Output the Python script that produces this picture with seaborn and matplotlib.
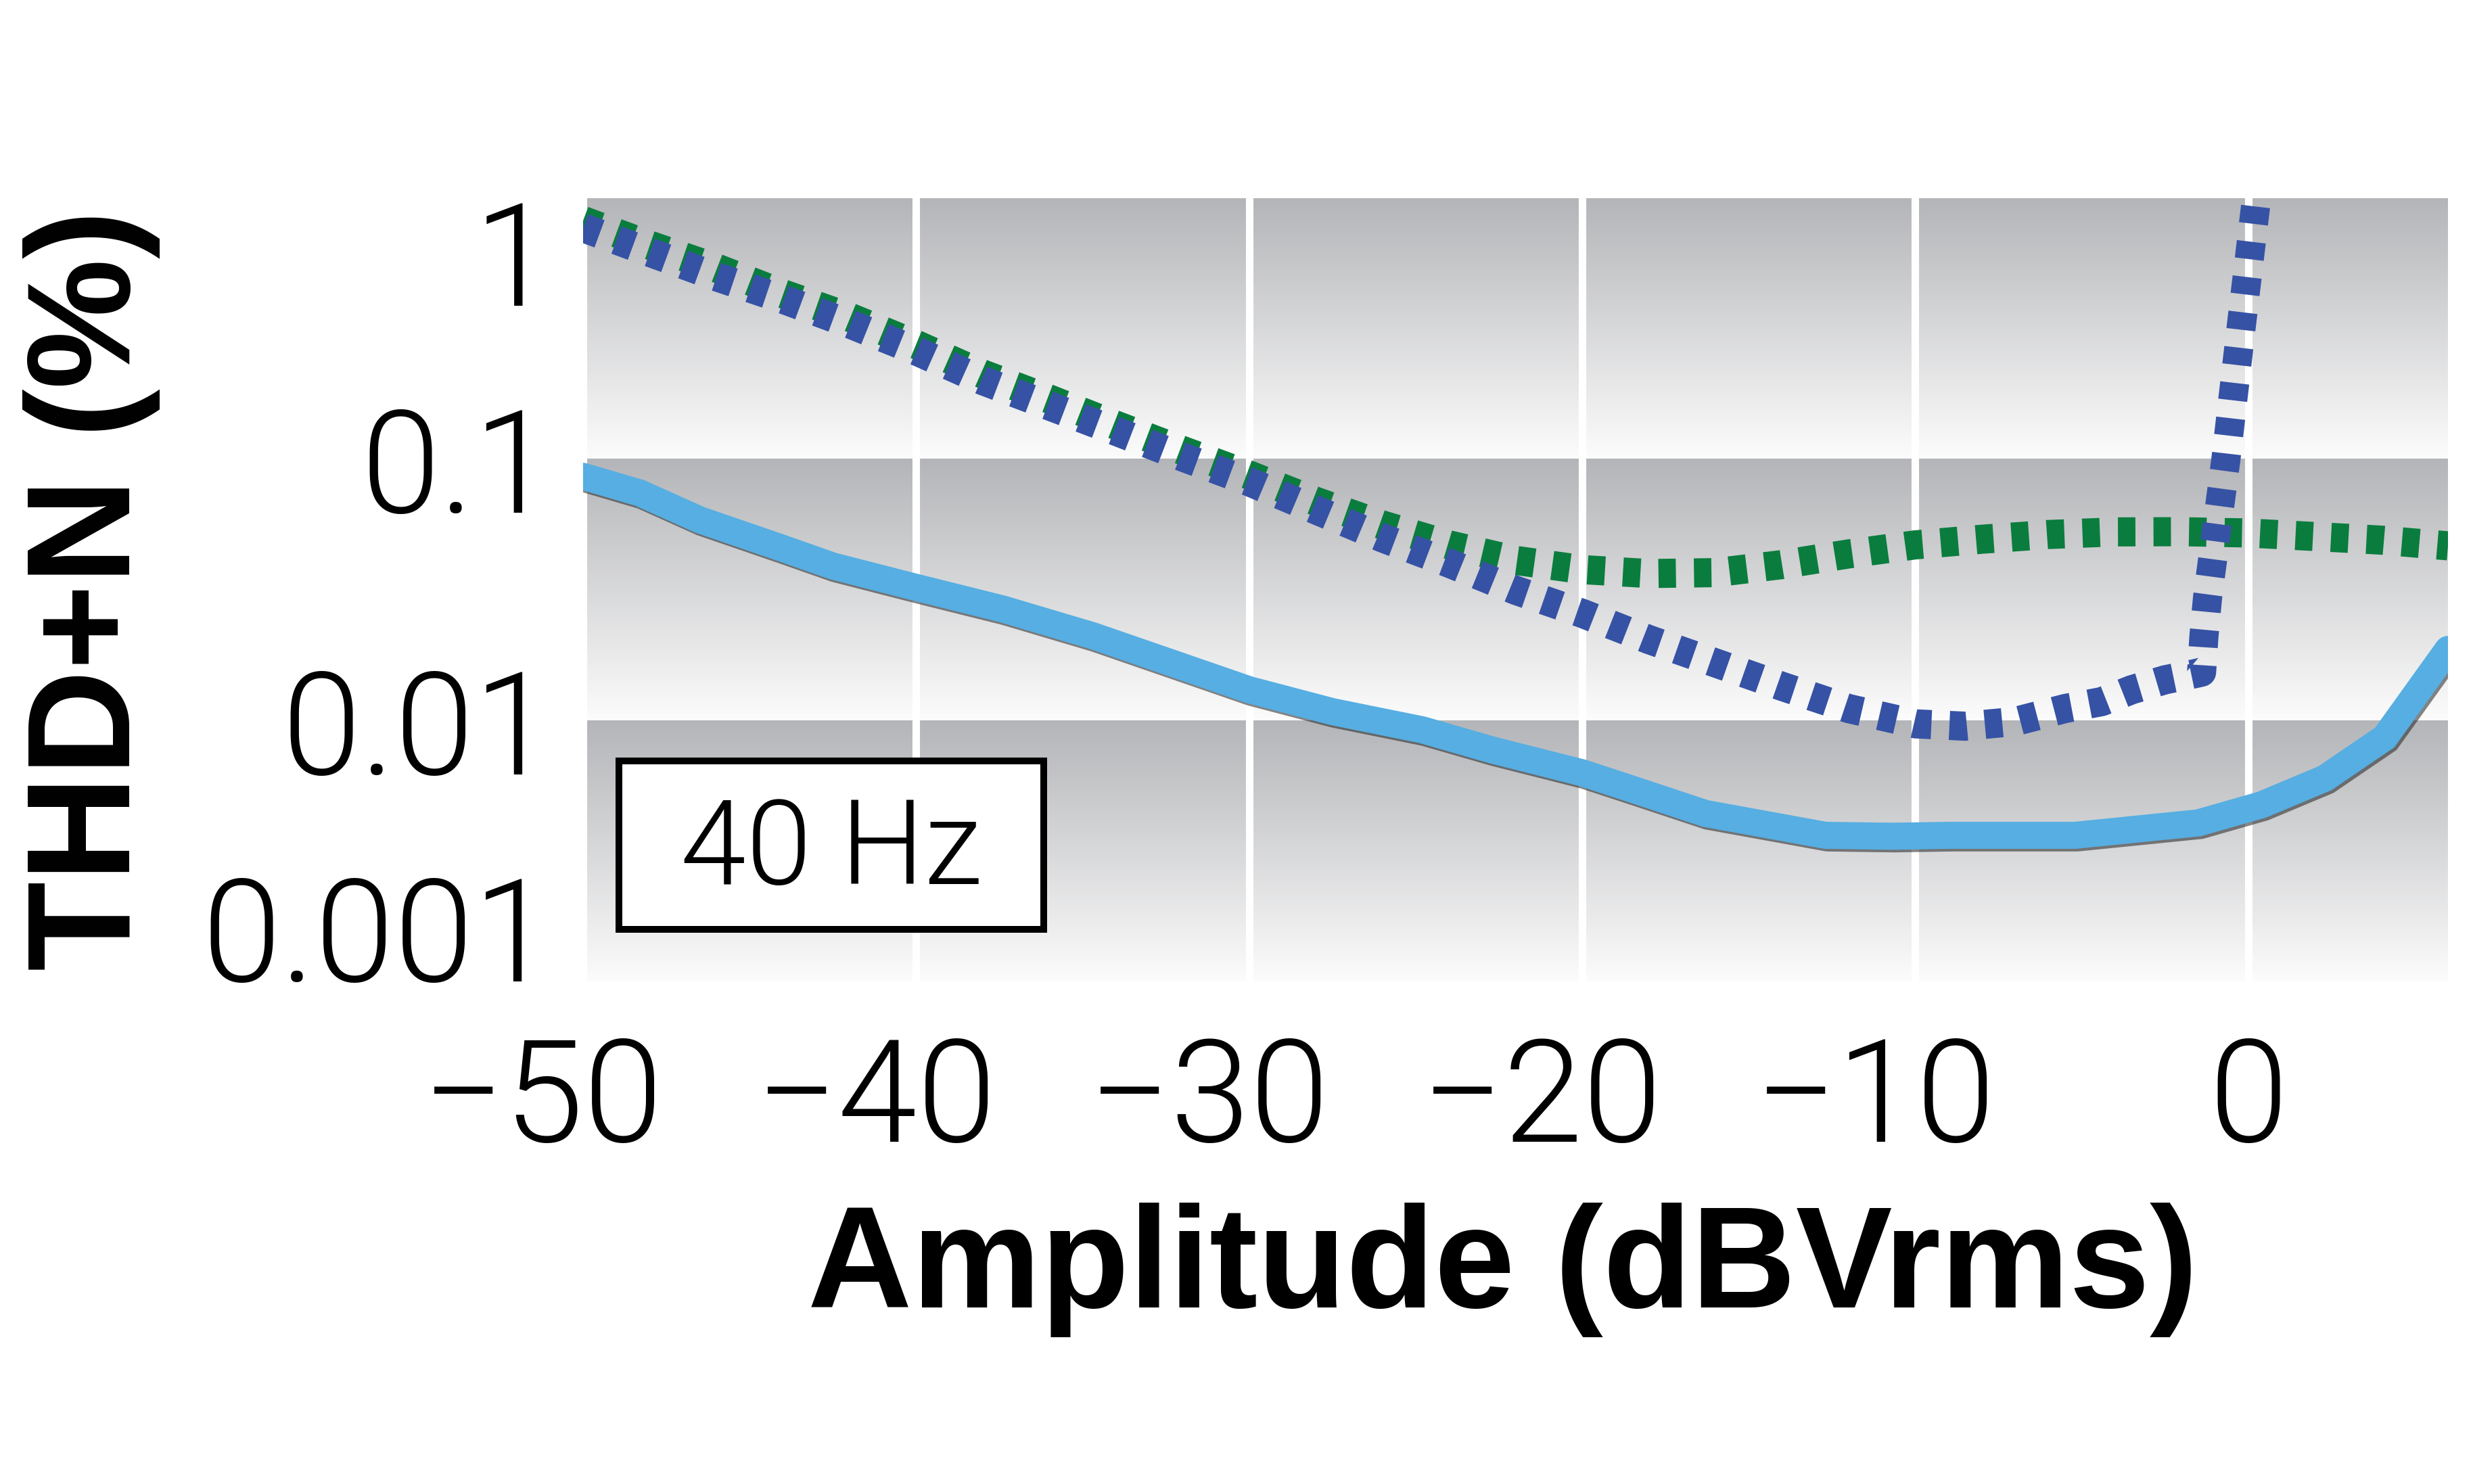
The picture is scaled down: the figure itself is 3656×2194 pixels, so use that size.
#!/usr/bin/env python3

import matplotlib

matplotlib.use("Agg")
import matplotlib.patheffects as pe
import matplotlib.pyplot as plt
import numpy as np
import pandas as pd
import seaborn as sns
from matplotlib.patches import Rectangle

# light blue solid trace (dBVrms, THD+N %)
solid_db = [-50, -48.3, -46.5, -44.1, -42.5, -40, -37.4, -34.7, -31.4, -30, -27.5,
            -24.8, -22.7, -20, -18.4, -16.3, -12.7, -10.7, -8.9, -5.2, -1.5,
            0.4, 2.3, 4.1, 6.0]
solid_pct = [0.086, 0.0743, 0.0586, 0.046, 0.039, 0.0323, 0.0267, 0.0211, 0.0151, 0.0131, 0.0108,
             0.0092, 0.0077, 0.0063, 0.0054, 0.0044, 0.00363, 0.0036, 0.00363, 0.00363, 0.00405,
             0.00475, 0.006, 0.0086, 0.0187]

# green dotted trace
green_db = [-50, -48, -46, -44, -42, -40, -38, -36, -34, -32, -30, -28, -26, -24, -22,
            -20, -18, -16, -14, -12, -10, -8, -6, -4, -2, 0, 2, 4, 6]
green_pct = [0.82, 0.66, 0.54, 0.43, 0.35, 0.275, 0.212, 0.17, 0.135, 0.108, 0.087, 0.069, 0.056,
             0.047, 0.041, 0.0378, 0.0365, 0.0368, 0.0395, 0.0434, 0.047, 0.0494, 0.0515,
             0.0527, 0.0528, 0.0522, 0.0506, 0.049, 0.0466]

# dark blue dotted trace
blue_db = [-50, -48, -46, -44, -42, -40, -38, -36, -34, -32, -30, -28, -26, -24, -22,
           -20, -18, -16, -14, -12, -10, -8.5, -7, -5.5, -4.4, -3.5, -2.5, -1.6, -1.4,
           -1.33, -1.22, -0.67, -0.2, 0.25, 0.4]
blue_pct = [0.77, 0.62, 0.5, 0.41, 0.33, 0.26, 0.2, 0.16, 0.128, 0.102, 0.082, 0.064, 0.05,
            0.04, 0.0315, 0.0257, 0.0204, 0.0166, 0.0135, 0.0111, 0.0097, 0.0095, 0.0099,
            0.0111, 0.0118, 0.0131, 0.0143, 0.0151, 0.0153,
            0.021, 0.0296, 0.1, 0.33, 1.0, 1.45]

x_ticks = [-50, -40, -30, -20, -10, 0]
# trailing figure space keeps the digits centred on the tick, minus hangs left
x_tick_labels = ["\u221250\u2007", "\u221240\u2007", "\u221230\u2007", "\u221220\u2007",
                 "\u221210\u2007", "0"]
y_ticks = [0.001, 0.01, 0.1, 1]
y_tick_labels = ["0.001", "0.01", "0.1", "1"]
x_label = "Amplitude (dBVrms)"
y_label = "THD+N (%)"
box_text = "40 Hz"

LIGHT = ["Roboto", "DejaVu Sans"]


def band_background(ax, n_bands=3, rows=400):
    top = np.array([0.706, 0.710, 0.722])
    bot = np.array([0.988, 0.988, 0.988])
    t = np.linspace(0, 1, rows)[:, None]
    band = top + (bot - top) * t
    img = np.tile(band, (n_bands, 1))[:, None, :]
    ax.imshow(img, extent=(0, 1, 0, 1), transform=ax.transAxes, aspect="auto",
              interpolation="nearest", zorder=0)


def main():
    sns.set_theme(style="white")
    plt.rcParams["font.family"] = ["Liberation Sans", "DejaVu Sans"]
    plt.rcParams["axes.unicode_minus"] = True

    fig = plt.figure(figsize=(18.28, 10.97), dpi=200)
    ax = fig.add_axes([0.2358, 0.3386, 0.7541, 0.5279])

    band_background(ax)

    solid = pd.DataFrame({"db": solid_db, "pct": solid_pct})
    green = pd.DataFrame({"db": green_db, "pct": green_pct})
    blue = pd.DataFrame({"db": blue_db, "pct": blue_pct})

    sns.lineplot(data=solid, x="db", y="pct", ax=ax, color="#56aee2", linewidth=14.4,
                 sort=False, estimator=None, solid_joinstyle="miter",
                 path_effects=[pe.SimpleLineShadow(offset=(1.2, -1.4), shadow_color="#222222", alpha=0.55),
                               pe.Normal()])
    sns.lineplot(data=green, x="db", y="pct", ax=ax, color="#0a7d3e", linewidth=15.5,
                 sort=False, estimator=None, linestyle=(0, (0.6, 0.62)), dash_capstyle="butt")
    sns.lineplot(data=blue, x="db", y="pct", ax=ax, color="#3652a5", linewidth=15.5,
                 sort=False, estimator=None, linestyle=(0, (0.6, 0.62)), dash_capstyle="butt")

    ax.set_yscale("log")
    ax.set_xlim(-50, 6)
    ax.set_ylim(0.001, 1)
    ax.set_xticks(x_ticks, x_tick_labels)
    ax.set_yticks(y_ticks, y_tick_labels)
    ax.yaxis.set_minor_locator(matplotlib.ticker.NullLocator())
    ax.tick_params(axis="both", length=0)
    ax.tick_params(axis="x", pad=28)
    ax.tick_params(axis="y", pad=16)
    for lab in ax.get_xticklabels() + ax.get_yticklabels():
        lab.set_fontfamily(LIGHT)
        lab.set_fontweight(300)
        lab.set_fontsize(76)
        lab.set_color("black")
    ylabs = ax.get_yticklabels()
    ylabs[0].set_va("baseline")
    ylabs[-1].set_va("top")

    ax.set_axisbelow(True)
    ax.grid(axis="x", color="white", linewidth=4)
    ax.grid(axis="y", visible=False)
    for s in ax.spines.values():
        s.set_visible(False)

    ax.set_xlabel(x_label, fontsize=77, fontweight="bold", color="black")
    ax.set_ylabel(y_label, fontsize=78, fontweight="bold", color="black")
    ax.xaxis.set_label_coords(0.493, -0.282)
    ax.yaxis.set_label_coords(-0.2267, 0.5)

    ax.add_patch(Rectangle((0.0192, 0.0665), 0.2278, 0.215, transform=ax.transAxes,
                           facecolor="white", edgecolor="black", linewidth=3.6, zorder=5))
    ax.text(0.133, 0.1244, box_text, transform=ax.transAxes, ha="center", va="baseline",
            fontsize=63, family=LIGHT, fontweight=300, color="black", zorder=6)

    fig.savefig("out.png", dpi=200, facecolor="white")


if __name__ == "__main__":
    main()
